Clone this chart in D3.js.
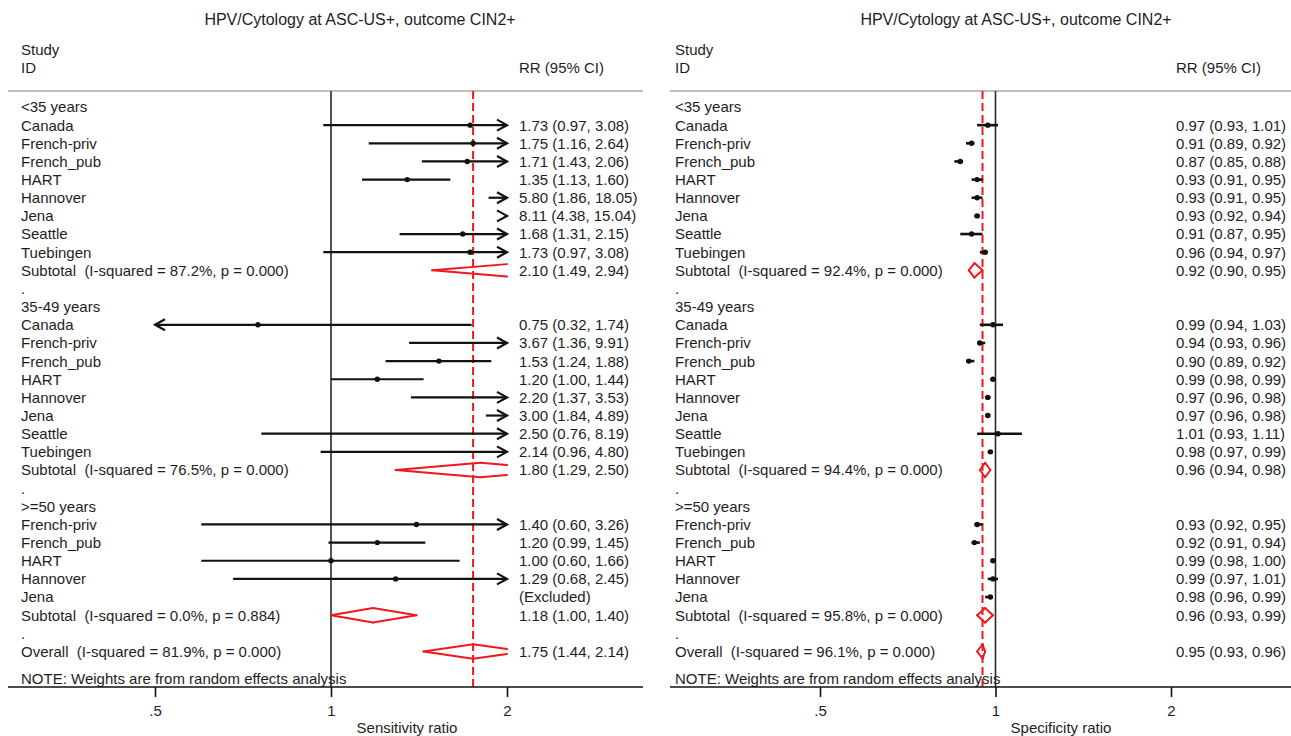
<!DOCTYPE html>
<html><head><meta charset="utf-8">
<script src="https://cdn.jsdelivr.net/npm/d3@7"></script>
<style>
html,body{margin:0;padding:0;background:#fff;}
svg{display:block;}
text{font-family:"Liberation Sans",Arial,Helvetica,sans-serif;white-space:pre;}
</style></head><body>
<svg id="chart" width="1291" height="736"></svg>
<script>
// ---- data -------------------------------------------------------------
const chartTitle = "HPV/Cytology at ASC-US+, outcome CIN2+";
const groupNames = ["<35 years", "35-49 years", ">=50 years"];
const groupStudies = [
  ["Canada", "French-priv", "French_pub", "HART", "Hannover", "Jena", "Seattle", "Tuebingen"],
  ["Canada", "French-priv", "French_pub", "HART", "Hannover", "Jena", "Seattle", "Tuebingen"],
  ["French-priv", "French_pub", "HART", "Hannover", "Jena"]
];
const tickValues = [0.5, 1, 2];
const tickLabels = [".5", "1", "2"];

// Sensitivity ratio (study rows in group order; null = excluded)
const sensEst = [1.73, 1.75, 1.71, 1.35, 5.80, 8.11, 1.68, 1.73,
                 0.75, 3.67, 1.53, 1.20, 2.20, 3.00, 2.50, 2.14,
                 1.40, 1.20, 1.00, 1.29, null];
const sensLo  = [0.97, 1.16, 1.43, 1.13, 1.86, 4.38, 1.31, 0.97,
                 0.32, 1.36, 1.24, 1.00, 1.37, 1.84, 0.76, 0.96,
                 0.60, 0.99, 0.60, 0.68, null];
const sensHi  = [3.08, 2.64, 2.06, 1.60, 18.05, 15.04, 2.15, 3.08,
                 1.74, 9.91, 1.88, 1.44, 3.53, 4.89, 8.19, 4.80,
                 3.26, 1.45, 1.66, 2.45, null];
const sensSubEst = [2.10, 1.80, 1.18];
const sensSubLo  = [1.49, 1.29, 1.00];
const sensSubHi  = [2.94, 2.50, 1.40];
const sensSubI2  = ["87.2%", "76.5%", "0.0%"];
const sensSubP   = ["0.000", "0.000", "0.884"];
const sensOverall = [1.75, 1.44, 2.14];
const sensOverallI2 = "81.9%", sensOverallP = "0.000";

// Specificity ratio
const specEst = [0.97, 0.91, 0.87, 0.93, 0.93, 0.93, 0.91, 0.96,
                 0.99, 0.94, 0.90, 0.99, 0.97, 0.97, 1.01, 0.98,
                 0.93, 0.92, 0.99, 0.99, 0.98];
const specLo  = [0.93, 0.89, 0.85, 0.91, 0.91, 0.92, 0.87, 0.94,
                 0.94, 0.93, 0.89, 0.98, 0.96, 0.96, 0.93, 0.97,
                 0.92, 0.91, 0.98, 0.97, 0.96];
const specHi  = [1.01, 0.92, 0.88, 0.95, 0.95, 0.94, 0.95, 0.97,
                 1.03, 0.96, 0.92, 0.99, 0.98, 0.98, 1.11, 0.99,
                 0.95, 0.94, 1.00, 1.01, 0.99];
const specSubEst = [0.92, 0.96, 0.96];
const specSubLo  = [0.90, 0.94, 0.93];
const specSubHi  = [0.95, 0.98, 0.99];
const specSubI2  = ["92.4%", "94.4%", "95.8%"];
const specSubP   = ["0.000", "0.000", "0.000"];
const specOverall = [0.95, 0.93, 0.96];
const specOverallI2 = "96.1%", specOverallP = "0.000";

// ---- layout -----------------------------------------------------------
const svg = d3.select("#chart");
const fmt = d3.format(".2f");
const textColor = "#1e1e1e";
const red = "#f0181e";
const fontSize = 15;
const rowY = d3.scaleLinear().domain([0, 30]).range([107, 651.5]);
const rowStep = rowY(1) - rowY(0);
const diamH = 0.4 * rowStep;

// Row list shared by both panels
function buildRows(est, lo, hi, subEst, subLo, subHi, subI2, subP, ov, ovI2, ovP) {
  const rows = [];
  let k = 0;
  groupNames.forEach((g, gi) => {
    rows.push({type: "group", label: g});
    groupStudies[gi].forEach(s => {
      rows.push({type: "study", label: s, es: est[k], lo: lo[k], hi: hi[k]});
      k++;
    });
    rows.push({type: "sub", label: `Subtotal  (I-squared = ${subI2[gi]}, p = ${subP[gi]})`,
               es: subEst[gi], lo: subLo[gi], hi: subHi[gi]});
    rows.push({type: "gap", label: "."});
  });
  rows.push({type: "sub", label: `Overall  (I-squared = ${ovI2}, p = ${ovP})`,
             es: ov[0], lo: ov[1], hi: ov[2]});
  return rows;
}

const panels = [
  {
    rows: buildRows(sensEst, sensLo, sensHi, sensSubEst, sensSubLo, sensSubHi, sensSubI2, sensSubP,
                    sensOverall, sensOverallI2, sensOverallP),
    x: d3.scaleLog().domain([0.5, 2]).range([155, 507]),
    left: 8, right: 643, labelX: 21, valueX: 519, titleX: 360,
    axisTitle: "Sensitivity ratio", axisTitleX: 407, lineW: 2.2
  },
  {
    rows: buildRows(specEst, specLo, specHi, specSubEst, specSubLo, specSubHi, specSubI2, specSubP,
                    specOverall, specOverallI2, specOverallP),
    x: d3.scaleLog().domain([0.5, 2]).range([820, 1171]),
    left: 670, right: 1291, labelX: 675, valueX: 1176, titleX: 1016,
    axisTitle: "Specificity ratio", axisTitleX: 1061, lineW: 2.6
  }
];

const topLineY = 91, axisY = 687;

function txt(g, x, y, s, opts = {}) {
  return g.append("text").attr("x", x).attr("y", y).attr("dy", "0.36em")
    .attr("font-size", opts.size || fontSize).attr("fill", textColor)
    .attr("text-anchor", opts.anchor || "start").text(s);
}

panels.forEach(p => {
  const g = svg.append("g");
  const x = p.x;
  const [dmin, dmax] = x.domain();
  const overall = p.rows[p.rows.length - 1];

  // header
  txt(g, p.titleX, 19, chartTitle, {anchor: "middle", size: 16});
  txt(g, p.labelX, 50, "Study");
  txt(g, p.labelX, 68, "ID");
  txt(g, p.valueX, 68, "RR (95% CI)");
  g.append("line").attr("x1", p.left).attr("x2", p.right)
    .attr("y1", topLineY).attr("y2", topLineY)
    .attr("stroke", "#a8a8a8").attr("stroke-width", 1.6);

  // null line and pooled estimate line
  g.append("line").attr("x1", x(1)).attr("x2", x(1)).attr("y1", topLineY).attr("y2", axisY)
    .attr("stroke", "#2a2a2a").attr("stroke-width", 1.6);
  g.append("line").attr("x1", x(overall.es)).attr("x2", x(overall.es))
    .attr("y1", topLineY).attr("y2", axisY)
    .attr("stroke", red).attr("stroke-width", 2).attr("stroke-dasharray", "8,4");

  // row labels and value texts
  p.rows.forEach((r, i) => {
    const y = rowY(i);
    txt(g, p.labelX, y, r.label);
    if (r.type === "study" || r.type === "sub") {
      const s = r.es == null ? "(Excluded)" : `${fmt(r.es)} (${fmt(r.lo)}, ${fmt(r.hi)})`;
      txt(g, p.valueX, y, s);
    }
  });
  txt(g, p.labelX, rowY(31.5), "NOTE: Weights are from random effects analysis");

  // study confidence intervals
  const arrow = (xa, y, dir) => {
    const L = 10, W = 5.5;
    g.append("path")
      .attr("d", d3.line()([[xa - dir * L, y - W], [xa, y], [xa - dir * L, y + W]]))
      .attr("fill", "none").attr("stroke", "#111").attr("stroke-width", p.lineW);
  };
  p.rows.forEach((r, i) => {
    if (r.type !== "study" || r.es == null) return;
    const y = rowY(i);
    const lo = Math.max(r.lo, dmin), hi = Math.min(r.hi, dmax);
    if (r.lo < dmax && r.hi > dmin) {
      g.append("line").attr("x1", x(lo)).attr("x2", x(hi)).attr("y1", y).attr("y2", y)
        .attr("stroke", "#111").attr("stroke-width", p.lineW);
    }
    if (r.hi > dmax) arrow(x(dmax), y, 1);
    if (r.lo < dmin) arrow(x(dmin), y, -1);
    if (r.es >= dmin && r.es <= dmax) {
      g.append("circle").attr("cx", x(r.es)).attr("cy", y).attr("r", 2.7).attr("fill", "#111");
    }
  });

  // pooled diamonds (clipped at the plotted range, open where cut)
  p.rows.forEach((r, i) => {
    if (r.type !== "sub") return;
    const y = rowY(i);
    const L = Math.log(r.lo), E = Math.log(r.es), U = Math.log(r.hi);
    const mn = Math.log(dmin), mx = Math.log(dmax);
    const topX = Math.min(Math.max(r.es, dmin), dmax);
    let topDY = diamH;
    if (E > mx) topDY = diamH * (mx - L) / (E - L);
    if (E < mn) topDY = diamH * (U - mn) / (U - E);
    const segs = [];
    if (E >= mn) {
      const lx = Math.max(r.lo, dmin);
      const ldy = L < mn ? diamH * (mn - L) / (E - L) : 0;
      segs.push([[x(lx), y - ldy], [x(topX), y - topDY]]);
      segs.push([[x(lx), y + ldy], [x(topX), y + topDY]]);
    }
    if (E <= mx) {
      const rx = Math.min(r.hi, dmax);
      const rdy = U > mx ? diamH * (U - mx) / (U - E) : 0;
      segs.push([[x(rx), y - rdy], [x(topX), y - topDY]]);
      segs.push([[x(rx), y + rdy], [x(topX), y + topDY]]);
    }
    segs.forEach(s => g.append("path").attr("d", d3.line()(s))
      .attr("fill", "none").attr("stroke", red).attr("stroke-width", 2)
      .attr("stroke-linecap", "round"));
  });

  // x axis
  g.append("line").attr("x1", p.left).attr("x2", p.right).attr("y1", axisY).attr("y2", axisY)
    .attr("stroke", "#111").attr("stroke-width", 1.6);
  const ax = g.append("g").attr("transform", `translate(0,${axisY})`)
    .call(d3.axisBottom(x).tickValues(tickValues)
      .tickFormat((d, i) => tickLabels[i]).tickSize(10).tickPadding(8).tickSizeOuter(0));
  ax.select(".domain").remove();
  ax.selectAll(".tick line").attr("stroke", "#111").attr("stroke-width", 1.6);
  ax.selectAll(".tick text").attr("font-size", fontSize).attr("fill", textColor)
    .attr("font-family", "'Liberation Sans',Arial,sans-serif");
  txt(g, p.axisTitleX, 728, p.axisTitle, {anchor: "middle"});
});
</script>
</body></html>
